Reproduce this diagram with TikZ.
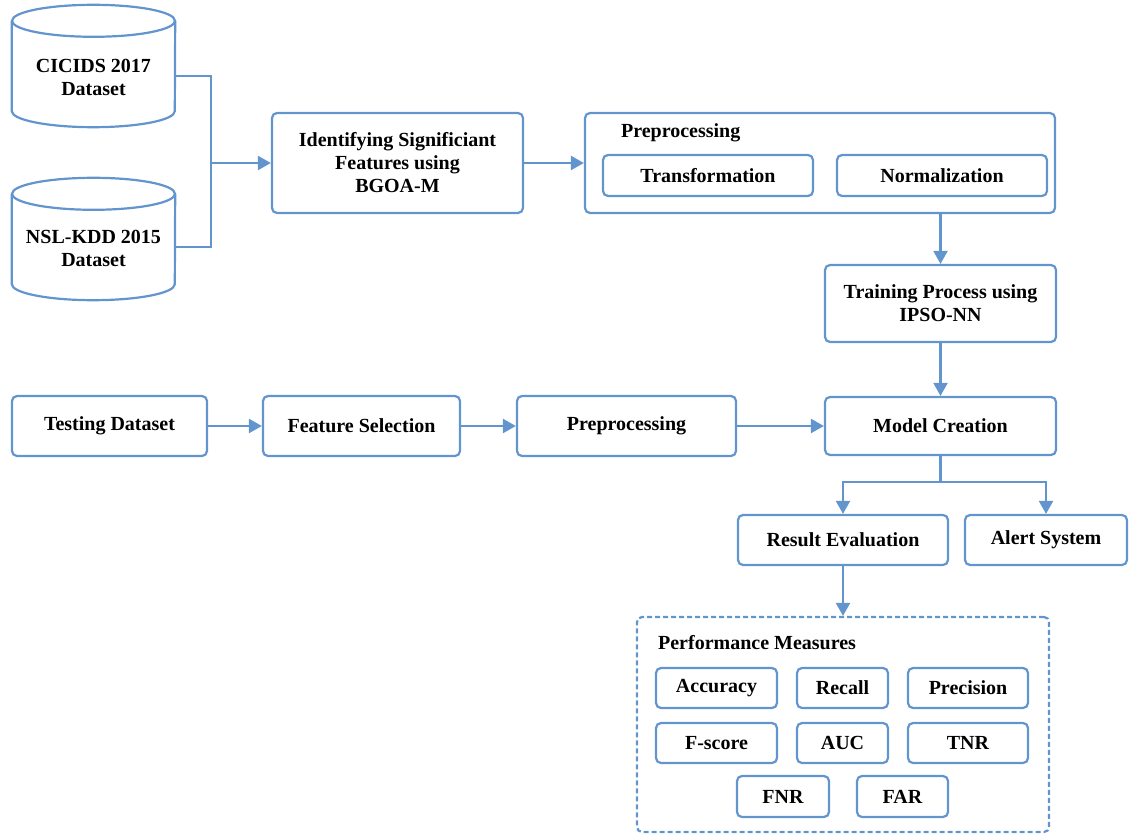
\documentclass[tikz,border=0pt]{standalone}
\usepackage{fontspec}
\setmainfont{Liberation Serif}
\usetikzlibrary{arrows.meta}

\definecolor{flow}{RGB}{98,148,206}

\tikzset{
  box/.style={draw=flow,line width=2.2pt,rounded corners=5pt,align=center,
    font=\bfseries\fontsize{20}{23}\selectfont},
  arr/.style={flow,line width=2.2pt,-{Triangle[length=13pt,width=14pt]}},
  line/.style={flow,line width=2.2pt}
}
% cylinder round a node of 163x122
\newcommand{\dbdraw}[1]{%
  \draw[line] ([yshift=-16pt]#1.north) ellipse [x radius=81.5pt,y radius=16pt];
  \draw[line] ([yshift=-16pt]#1.north west) -- ([yshift=16pt]#1.south west)
    arc[start angle=180,end angle=360,x radius=81.5pt,y radius=16pt]
    -- ([yshift=-16pt]#1.north east);
}

\begin{document}
\begin{tikzpicture}[x=1pt,y=-1pt]
\useasboundingbox (0,0) rectangle (1129,834);

%datasets on the left
\node[minimum width=163pt,minimum height=122pt,inner sep=0pt] (ds1) at (93.5,66) {};
\dbdraw{ds1}
\node[box,draw=none] (t1) at ([yshift=-11pt]ds1.center) {CICIDS 2017\\Dataset};
\node[minimum width=163pt,minimum height=122pt,inner sep=0pt] (ds2) at (93.5,239) {};
\dbdraw{ds2}
\node[box,draw=none] (t2) at ([yshift=-9pt]ds2.center) {NSL-KDD 2015\\Dataset};
\coordinate (join) at (211,163);

%top row
\node[box,minimum width=251pt,minimum height=100pt] (bgoa) at (397.5,163) {Identifying Significiant\\Features using\\BGOA-M};
\node[box,minimum width=470pt,minimum height=100pt] (pre) at (820,163) {};
\node[box,draw=none,anchor=west,inner sep=0pt] (pretitle) at (620,133) {Preprocessing};
\node[box,minimum width=210pt,minimum height=41pt] (trans) at (708,175.5) {Transformation};
\node[box,minimum width=210pt,minimum height=41pt] (norm) at (942,175.5) {Normalization};

\node[box,minimum width=231pt,minimum height=77pt] (train) at (940.5,303.5) {Training Process using\\IPSO-NN};

%testing row
\node[box,minimum width=195pt,minimum height=60pt] (test) at (109.5,426) {Testing Dataset};
\node[box,minimum width=197pt,minimum height=60pt] (fsel) at (361.5,426) {Feature Selection};
\node[box,minimum width=219pt,minimum height=60pt] (pre2) at (626.5,426) {Preprocessing};
\node[box,minimum width=231pt,minimum height=58pt] (model) at (940.5,426) {Model Creation};
\coordinate (branch) at (940.5,482);

\node[box,minimum width=210pt,minimum height=50pt] (res) at (843,540) {Result Evaluation};
\node[box,minimum width=162pt,minimum height=50pt] (alert) at (1046,540) {Alert System};

%performance measures
\node[box,dash pattern=on 5pt off 3pt,minimum width=412pt,minimum height=215pt] (perf) at (843,724.5) {};
\node[box,draw=none,anchor=west,inner sep=0pt] (perftitle) at (657,643) {Performance Measures};
\node[box,minimum width=121pt,minimum height=40pt] (m1) at (716.5,688) {Accuracy};
\node[box,minimum width=91pt,minimum height=40pt] (m2) at (842.5,688) {Recall};
\node[box,minimum width=120pt,minimum height=40pt] (m3) at (968,688) {Precision};
\node[box,minimum width=121pt,minimum height=40pt] (m4) at (716.5,743) {F-score};
\node[box,minimum width=91pt,minimum height=40pt] (m5) at (842.5,743) {AUC};
\node[box,minimum width=120pt,minimum height=40pt] (m6) at (968,743) {TNR};
\node[box,minimum width=92pt,minimum height=41pt] (m7) at (783,796.5) {FNR};
\node[box,minimum width=91pt,minimum height=41pt] (m8) at (902.5,796.5) {FAR};

%connectors
\draw[line] ([yshift=-10pt]ds1.east) -| (join);
\draw[line] ([yshift=-8pt]ds2.east) -| (join);
\draw[arr] (join) -- (bgoa);
\draw[arr] (bgoa) -- (pre);
\draw[arr] (pre.south -| train) -- (train);
\draw[arr] (train) -- (model);
\draw[arr] (test) -- (fsel);
\draw[arr] (fsel) -- (pre2);
\draw[arr] (pre2) -- (model);
\draw[line] (model) -- (branch);
\draw[arr] (branch) -| (res.north);
\draw[arr] (branch) -| (alert.north);
\draw[arr] (res) -- (perf);

\end{tikzpicture}
\end{document}
